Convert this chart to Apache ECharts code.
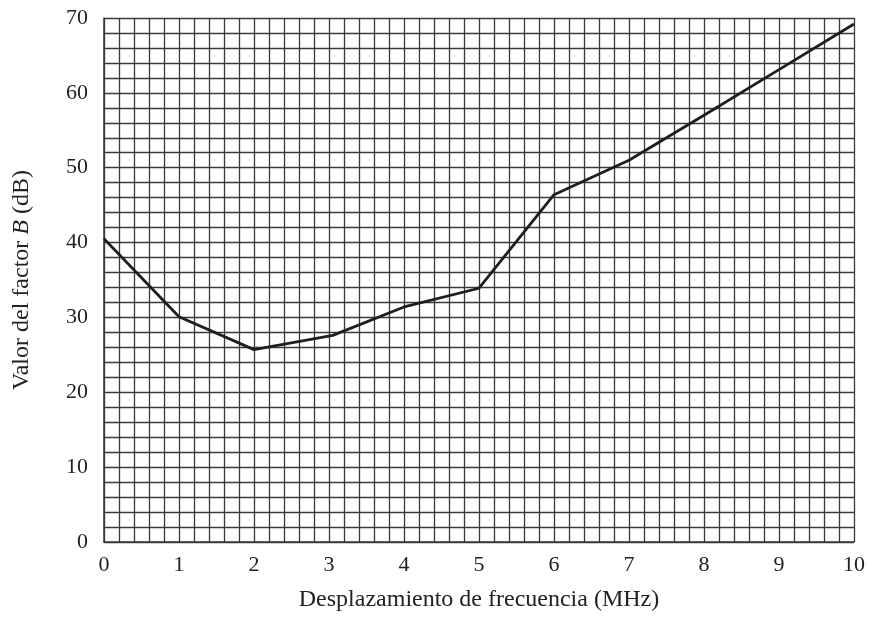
<!DOCTYPE html>
<html>
<head>
<meta charset="utf-8">
<script src="https://cdn.jsdelivr.net/npm/echarts@6/dist/echarts.min.js"></script>
<style>html,body{margin:0;padding:0;background:#fff}#c{width:869px;height:628px}</style>
</head>
<body>
<div id="c"></div>
<script>
var xValues = [0, 1, 2, 3.05, 4, 5, 6, 7, 8, 9, 10];
var bValues = [40.5, 30.1, 25.7, 27.6, 31.4, 33.9, 46.4, 51.0, 57.0, 63.1, 69.2];
var xTitle = 'Desplazamiento de frecuencia (MHz)';
var yTitle = 'Valor del factor {i|B} (dB)';

var chart = echarts.init(document.getElementById('c'));
var font = 'Liberation Serif, Times New Roman, serif';
var fs = 22;
var ts = 24;
var gridColor = '#3a3a3a';
chart.setOption({
  animation: false,
  grid: {left: 104, right: 15, top: 18, bottom: 86, containLabel: false},
  xAxis: {
    type: 'value', min: 0, max: 10, interval: 1,
    name: xTitle, nameLocation: 'middle', nameGap: 46,
    nameTextStyle: {fontFamily: font, fontSize: ts, color: '#222'},
    axisLine: {show: true, lineStyle: {color: gridColor, width: 1.5}},
    axisTick: {show: false},
    axisLabel: {fontFamily: font, fontSize: fs, color: '#222', margin: 12},
    splitLine: {show: true, lineStyle: {color: gridColor, width: 1.3}},
    minorTick: {show: false, splitNumber: 5},
    minorSplitLine: {show: true, lineStyle: {color: gridColor, width: 1.3}}
  },
  yAxis: {
    type: 'value', min: 0, max: 70, interval: 10,
    name: yTitle, nameLocation: 'middle', nameGap: 70, nameRotate: 90,
    nameTextStyle: {fontFamily: font, fontSize: ts, color: '#222',
      rich: {i: {fontFamily: font, fontSize: ts, fontStyle: 'italic', color: '#222'}}},
    axisLine: {show: true, lineStyle: {color: gridColor, width: 1.5}},
    axisTick: {show: false},
    axisLabel: {fontFamily: font, fontSize: fs, color: '#222', margin: 16},
    splitLine: {show: true, lineStyle: {color: gridColor, width: 1.3}},
    minorTick: {show: false, splitNumber: 5},
    minorSplitLine: {show: true, lineStyle: {color: gridColor, width: 1.3}}
  },
  series: [{
    type: 'line',
    data: xValues.map(function (x, i) { return [x, bValues[i]]; }),
    showSymbol: false,
    symbol: 'none',
    lineStyle: {color: '#1e1e1e', width: 2.8},
    z: 5
  }]
});
</script>
</body>
</html>
